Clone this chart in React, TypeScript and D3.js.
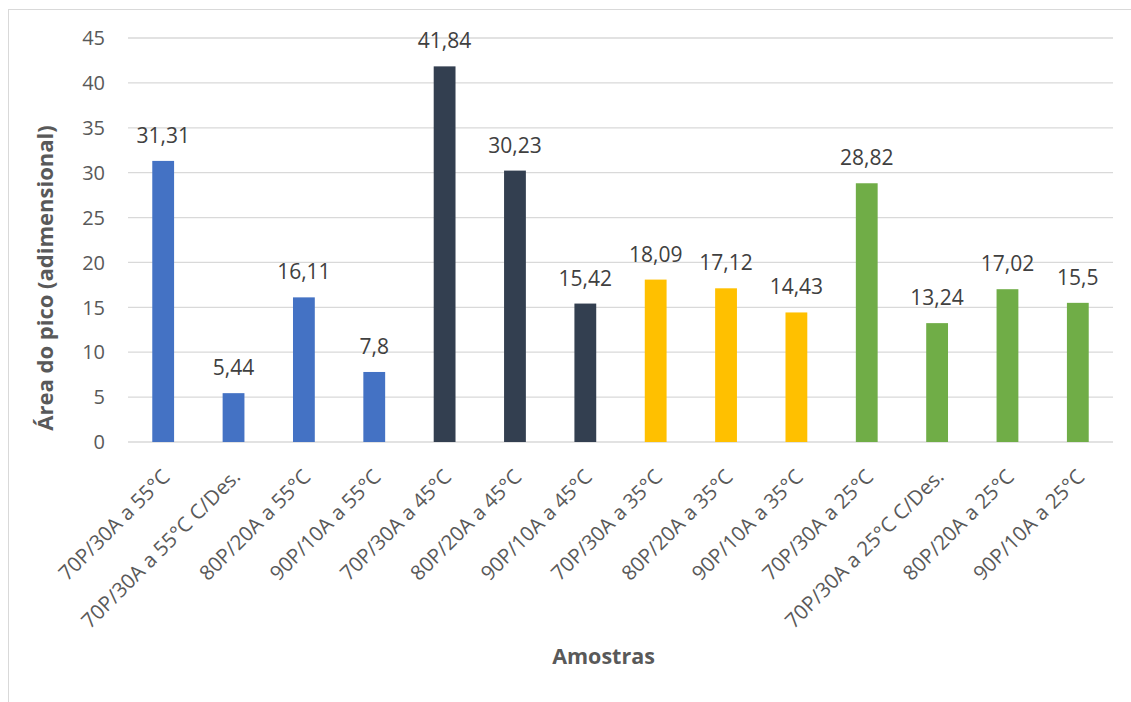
import React from "react";
import * as d3 from "d3";

const categories = [
  "70P/30A a 55°C",
  "70P/30A a 55°C C/Des.",
  "80P/20A a 55°C",
  "90P/10A a 55°C",
  "70P/30A a 45°C",
  "80P/20A a 45°C",
  "90P/10A a 45°C",
  "70P/30A a 35°C",
  "80P/20A a 35°C",
  "90P/10A a 35°C",
  "70P/30A a 25°C",
  "70P/30A a 25°C C/Des.",
  "80P/20A a 25°C",
  "90P/10A a 25°C",
];
const values = [31.31, 5.44, 16.11, 7.8, 41.84, 30.23, 15.42, 18.09, 17.12, 14.43, 28.82, 13.24, 17.02, 15.5];
const groups = [0, 0, 0, 0, 1, 1, 1, 2, 2, 2, 3, 3, 3, 3];
const groupColors = ["#4472C4", "#333F50", "#FFC000", "#70AD47"];
const yTicks = [0, 5, 10, 15, 20, 25, 30, 35, 40, 45];

const W = 1131;
const H = 702;
const left = 128;
const right = 1113;
const top = 38;
const bottom = 442;
const FONT = "'Open Sans', 'Noto Sans', sans-serif";

export default function App() {
  const x = d3.scaleBand<string>().domain(categories).range([left, right]).paddingInner(0.69).paddingOuter(0.345);
  const y = d3.scaleLinear().domain([0, 45]).range([bottom, top]);
  const fmt = (v: number) => String(v).replace(".", ",");
  return (
    <svg width={W} height={H} style={{ position: "absolute", left: 0, top: 0, fontFamily: FONT }}>
      <rect x={0} y={0} width={W} height={H} fill="#fff" />
      <rect x={8.5} y={9.5} width={W + 20} height={H + 20} fill="none" stroke="#D9D9D9" strokeWidth={1} />
      {yTicks.map((t) => (
        <g key={t}>
          <line x1={left} x2={right} y1={y(t)} y2={y(t)} stroke="#D9D9D9" strokeWidth={1.3} />
          <text x={105} y={y(t)} dy="0.36em" textAnchor="end" fontSize={20} fill="#595959">
            {t}
          </text>
        </g>
      ))}
      {categories.map((c, i) => {
        const bx = x(c) as number;
        const bw = x.bandwidth();
        const cx = bx + bw / 2;
        return (
          <g key={c}>
            <rect x={bx} y={y(values[i])} width={bw} height={y(0) - y(values[i])} fill={groupColors[groups[i]]} />
            <text x={cx} y={y(values[i]) - 18} textAnchor="middle" fontSize={21} fill="#404040">
              {fmt(values[i])}
            </text>
            <text
              transform={`translate(${cx + 8},${478}) rotate(-45)`}
              textAnchor="end"
              fontSize={20.5}
              fill="#595959"
            >
              {c}
            </text>
          </g>
        );
      })}
      <text
        transform={`translate(53,${278}) rotate(-90)`}
        textAnchor="middle"
        fontSize={22}
        fontWeight="bold"
        fill="#595959"
      >
        Área do pico (adimensional)
      </text>
      <text x={603.5} y={664} textAnchor="middle" fontSize={21.5} fontWeight="bold" fill="#595959">
        Amostras
      </text>
    </svg>
  );
}
